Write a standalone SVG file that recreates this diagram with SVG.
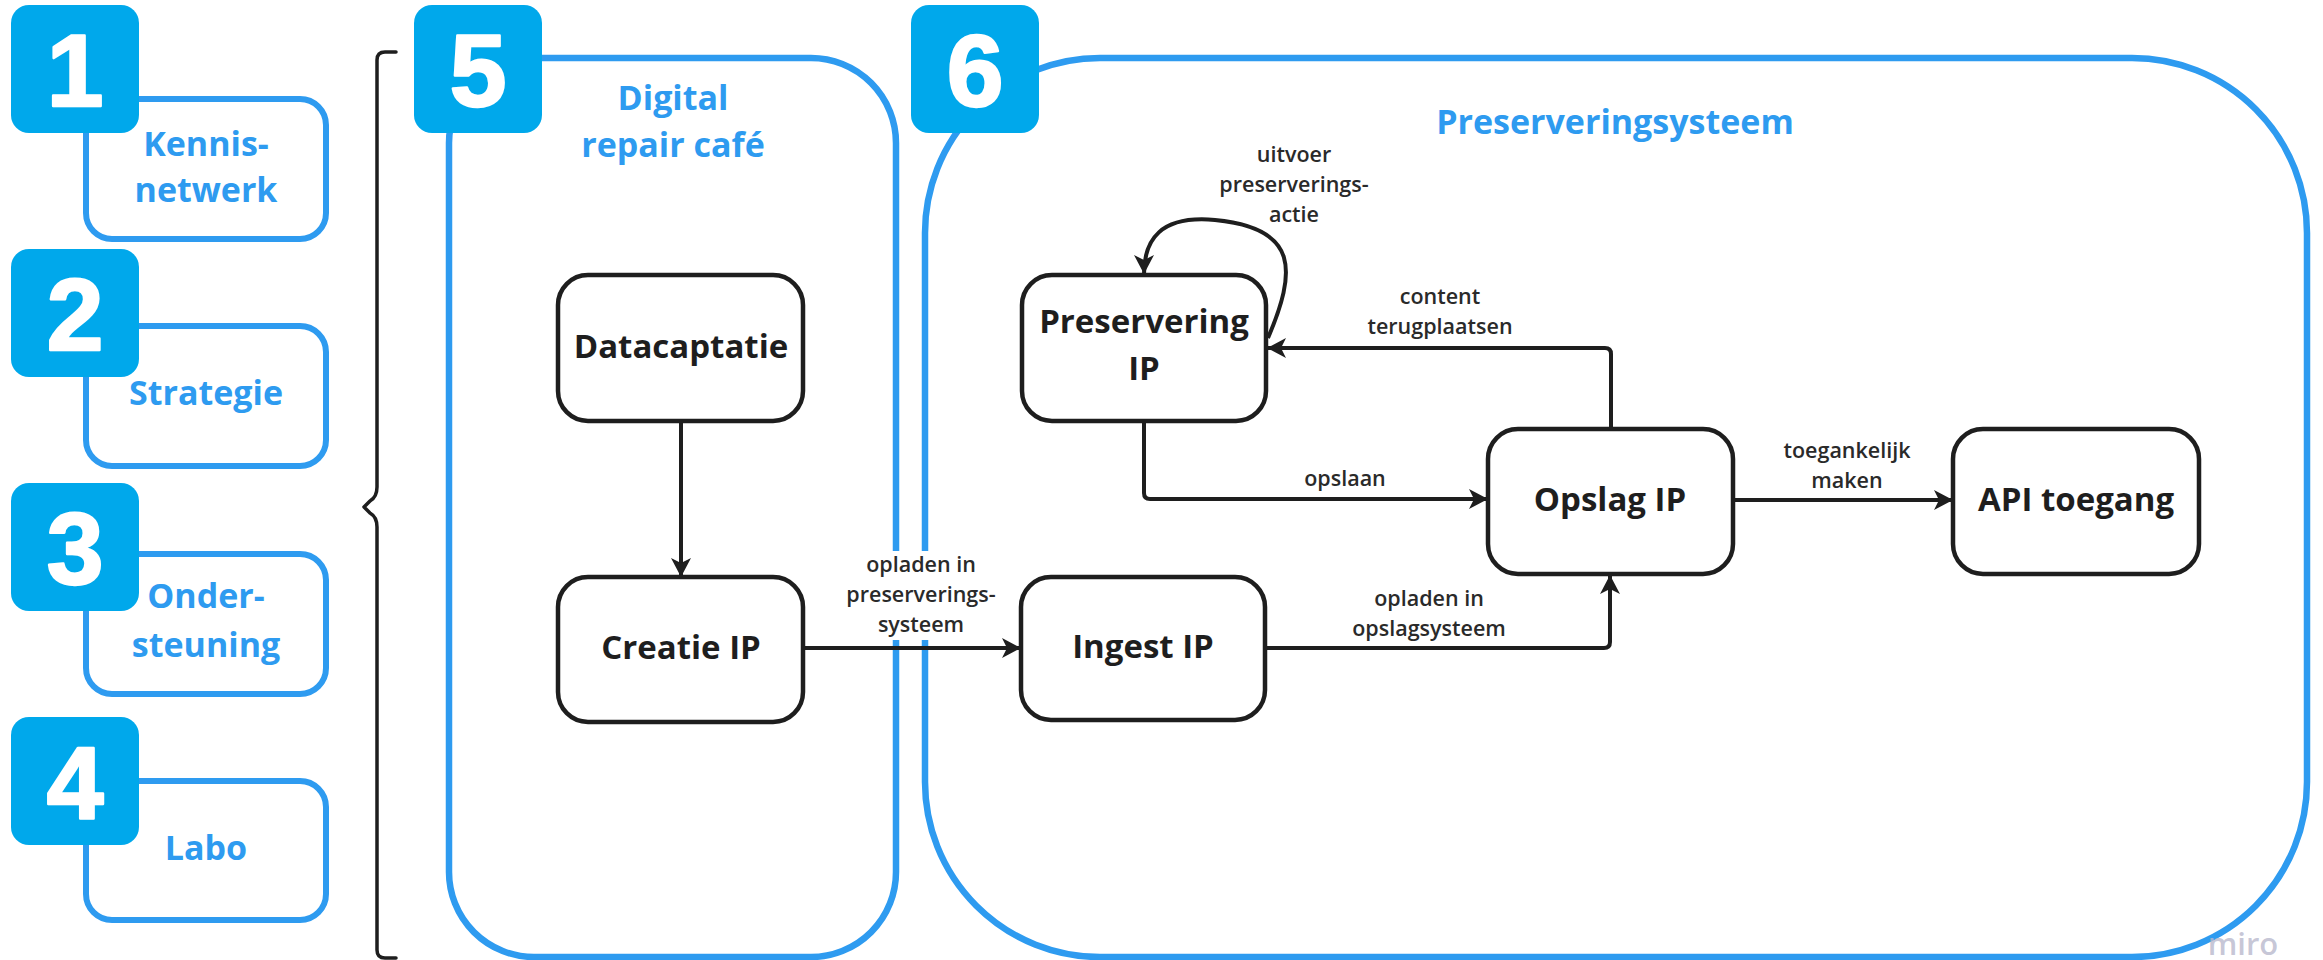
<svg xmlns="http://www.w3.org/2000/svg" width="2323" height="960" viewBox="0 0 2323 960">
<style>
  .badge { fill: #00A8EB; }
  .digit { font-family: "Liberation Sans", "DejaVu Sans", sans-serif; font-weight: 700; font-size: 102px; fill: #ffffff; stroke: #ffffff; stroke-width: 2.5; stroke-linejoin: round; text-anchor: middle; }
  .sidebox { fill: #ffffff; stroke: #2E9BF0; stroke-width: 6; }
  .frame { fill: none; stroke: #2E9BF0; stroke-width: 6.5; }
  .btxt { font-family: "Open Sans", "Noto Sans", sans-serif; font-weight: 700; font-size: 34px; fill: #2E9BF0; text-anchor: middle; }
  .node { fill: #ffffff; stroke: #1E1E1E; stroke-width: 4.5; }
  .ntxt { font-family: "Open Sans", "Noto Sans", sans-serif; font-weight: 700; font-size: 33px; fill: #1E1E1E; text-anchor: middle; }
  .conn { fill: none; stroke: #1E1E1E; stroke-width: 4; stroke-linejoin: round; }
  .ltxt { font-family: "Open Sans", "Noto Sans", sans-serif; font-weight: 600; font-size: 21.5px; fill: #2A2A2A; text-anchor: middle; }
  .brace { fill: none; stroke: #1E1E1E; stroke-width: 3.5; stroke-linejoin: round; stroke-linecap: round; }
</style>
<defs>
  <marker id="arr" markerUnits="userSpaceOnUse" markerWidth="22" markerHeight="22" refX="19" refY="10" orient="auto">
    <path d="M0,0 L19,10 L0,20 L5,10 Z" fill="#1E1E1E"/>
  </marker>
</defs>
<rect x="0" y="0" width="2323" height="960" fill="#ffffff"/>

<!-- frames -->
<g id="frame-5">
  <rect class="frame" x="449" y="58" width="447" height="899" rx="85" ry="85"/>
  <text class="btxt" x="673" y="110">Digital</text>
  <text class="btxt" x="673" y="157">repair café</text>
</g>
<g id="frame-6">
  <rect class="frame" x="925" y="58" width="1382" height="899" rx="175" ry="175"/>
  <text class="btxt" x="1615" y="134">Preserveringsysteem</text>
</g>

<!-- brace -->
<g id="brace">
  <path class="brace" d="M 396 52 L 385 52 Q 377 52 377 60 L 377 487 Q 377 497 370 501 L 364 507 L 370 513 Q 377 517 377 527 L 377 950 Q 377 958 385 958 L 396 958"/>
</g>

<!-- side boxes -->
<g id="item-1">
  <rect class="sidebox" x="86" y="99" width="240" height="140" rx="26"/>
  <text class="btxt" x="206" y="156">Kennis-</text>
  <text class="btxt" x="206" y="202">netwerk</text>
  <rect class="badge" x="11" y="5" width="128" height="128" rx="18"/>
  <text class="digit" x="75" y="106">1</text>
</g>
<g id="item-2">
  <rect class="sidebox" x="86" y="326" width="240" height="140" rx="26"/>
  <text class="btxt" x="206" y="405">Strategie</text>
  <rect class="badge" x="11" y="249" width="128" height="128" rx="18"/>
  <text class="digit" x="75" y="350">2</text>
</g>
<g id="item-3">
  <rect class="sidebox" x="86" y="554" width="240" height="140" rx="26"/>
  <text class="btxt" x="206" y="608">Onder-</text>
  <text class="btxt" x="206" y="657">steuning</text>
  <rect class="badge" x="11" y="483" width="128" height="128" rx="18"/>
  <text class="digit" x="75" y="584">3</text>
</g>
<g id="item-4">
  <rect class="sidebox" x="86" y="781" width="240" height="139" rx="26"/>
  <text class="btxt" x="206" y="860">Labo</text>
  <rect class="badge" x="11" y="717" width="128" height="128" rx="18"/>
  <text class="digit" x="75" y="818">4</text>
</g>
<g id="badge-5">
  <rect class="badge" x="414" y="5" width="128" height="128" rx="18"/>
  <text class="digit" x="478" y="106">5</text>
</g>
<g id="badge-6">
  <rect class="badge" x="911" y="5" width="128" height="128" rx="18"/>
  <text class="digit" x="975" y="106">6</text>
</g>

<!-- connectors -->
<g id="connectors">
  <path class="conn" d="M 681 421 L 681 577" marker-end="url(#arr)"/>
  <path class="conn" d="M 803 648 L 1021 648" marker-end="url(#arr)"/>
  <path class="conn" d="M 1265 648 L 1604 648 Q 1610 648 1610 642 L 1610 575" marker-end="url(#arr)"/>
  <path class="conn" d="M 1144 421 L 1144 493 Q 1144 499 1150 499 L 1488 499" marker-end="url(#arr)"/>
  <path class="conn" d="M 1611 429 L 1611 354 Q 1611 348 1605 348 L 1267 348" marker-end="url(#arr)"/>
  <path class="conn" d="M 1733 500 L 1953 500" marker-end="url(#arr)"/>
  <path class="conn" d="M 1268 338 C 1296 272, 1300 228, 1215 220 C 1160 215, 1144 240, 1144 274" marker-end="url(#arr)"/>
</g>

<!-- connector labels -->
<g id="labels">
  <rect x="878" y="551" width="94" height="89" fill="#ffffff"/>
  <text class="ltxt" x="921" y="572">opladen in</text>
  <text class="ltxt" x="921" y="602">preserverings-</text>
  <text class="ltxt" x="921" y="632">systeem</text>
  <text class="ltxt" x="1429" y="606">opladen in</text>
  <text class="ltxt" x="1429" y="636">opslagsysteem</text>
  <text class="ltxt" x="1345" y="486">opslaan</text>
  <text class="ltxt" x="1440" y="304">content</text>
  <text class="ltxt" x="1440" y="334">terugplaatsen</text>
  <text class="ltxt" x="1294" y="162">uitvoer</text>
  <text class="ltxt" x="1294" y="192">preserverings-</text>
  <text class="ltxt" x="1294" y="222">actie</text>
  <text class="ltxt" x="1847" y="458">toegankelijk</text>
  <text class="ltxt" x="1847" y="488">maken</text>
</g>

<!-- nodes -->
<g id="node-datacaptatie">
  <rect class="node" x="558" y="275" width="245" height="146" rx="30"/>
  <text class="ntxt" x="681" y="358">Datacaptatie</text>
</g>
<g id="node-creatie">
  <rect class="node" x="558" y="577" width="245" height="145" rx="30"/>
  <text class="ntxt" x="681" y="659">Creatie IP</text>
</g>
<g id="node-preservering">
  <rect class="node" x="1022" y="275" width="244" height="146" rx="30"/>
  <text class="ntxt" x="1144" y="333">Preservering</text>
  <text class="ntxt" x="1144" y="380">IP</text>
</g>
<g id="node-ingest">
  <rect class="node" x="1021" y="577" width="244" height="143" rx="30"/>
  <text class="ntxt" x="1143" y="658">Ingest IP</text>
</g>
<g id="node-opslag">
  <rect class="node" x="1488" y="429" width="245" height="145" rx="30"/>
  <text class="ntxt" x="1610" y="511">Opslag IP</text>
</g>
<g id="node-api">
  <rect class="node" x="1953" y="429" width="246" height="145" rx="30"/>
  <text class="ntxt" x="2076" y="511">API toegang</text>
</g>

<text x="2243" y="955" font-family="Open Sans, Noto Sans, sans-serif" font-weight="600" font-size="31" fill="#b8b8cc" fill-opacity="0.8" text-anchor="middle">miro</text>
</svg>
